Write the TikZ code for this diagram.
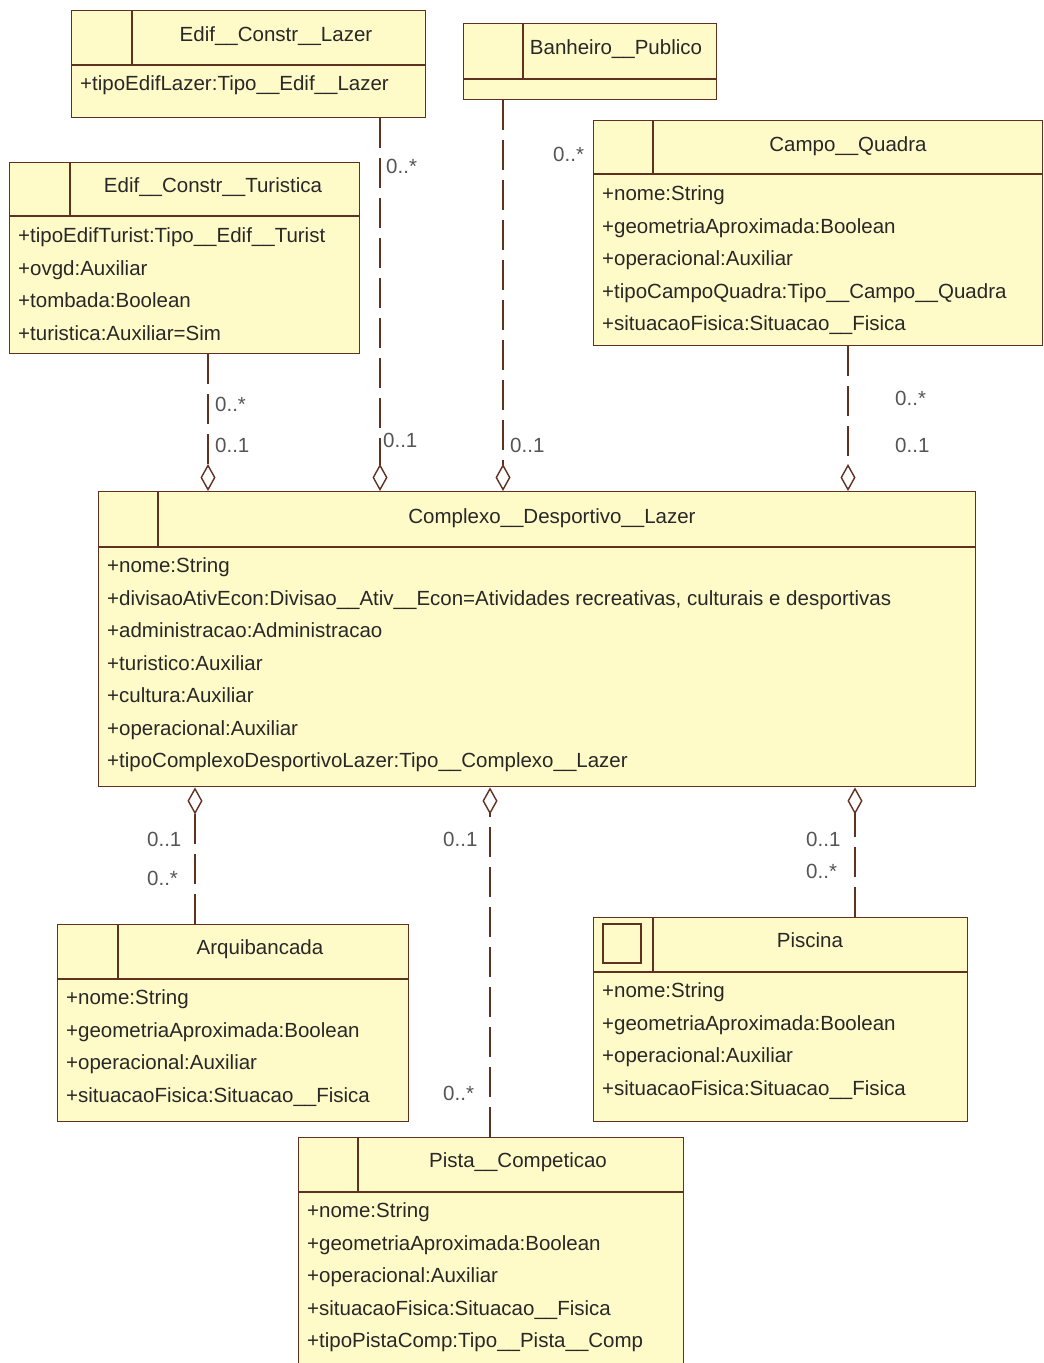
\documentclass[tikz,border=0pt]{standalone}
\usepackage{fontspec}
\setmainfont{Liberation Sans}
\usetikzlibrary{arrows.meta,positioning}
\definecolor{umlfill}{RGB}{255,251,200}
\definecolor{umlborder}{RGB}{96,48,32}
\definecolor{umltext}{RGB}{40,40,40}
\definecolor{multtext}{RGB}{85,85,85}
\newcommand{\umlfont}{\fontsize{20.5}{24}\selectfont}
\tikzset{classbox/.style={draw=umlborder,fill=umlfill,line width=1.4pt,inner sep=0pt,anchor=north west}}
\tikzset{divider/.style={draw=umlborder,line width=1.4pt}}
\tikzset{title/.style={inner sep=0pt,text=umltext,font=\umlfont,text height=15pt,text depth=4pt}}
\tikzset{attr/.style={anchor=west,inner sep=0pt,text=umltext,font=\umlfont,text height=15pt,text depth=4pt}}
\tikzset{mult/.style={anchor=west,inner sep=0pt,text=multtext,font=\umlfont,text height=15pt,text depth=4pt}}
\tikzset{aggr/.style={draw=umlborder,line width=1.4pt,dash pattern=on 30pt off 10pt,-{Diamond[open,length=27pt,width=15pt]}}}

\begin{document}
\begin{tikzpicture}[x=1pt,y=-1pt]
  \useasboundingbox (0,0) rectangle (1044,1363);
  % Edif__Constr__Lazer
  \node[classbox,minimum width=354,minimum height=107] (lazer) at (71,10) {};
  \draw[divider] (71,65) -- (425,65);
  \draw[divider] (132,10) -- (132,65);
  \node[title] (lazer-t) at (276,36) {Edif\_\_Constr\_\_Lazer};
  \node[attr] (lazer-a0) at (80,85) {+tipoEdifLazer:Tipo\_\_Edif\_\_Lazer};
  % Edif__Constr__Turistica
  \node[classbox,minimum width=350,minimum height=191] (turistica) at (9,162) {};
  \draw[divider] (9,216) -- (359,216);
  \draw[divider] (70,162) -- (70,216);
  \node[title] (turistica-t) at (213,187) {Edif\_\_Constr\_\_Turistica};
  \foreach \t [count=\i from 0] in {+tipoEdifTurist:Tipo\_\_Edif\_\_Turist,+ovgd:Auxiliar,
      +tombada:Boolean,+turistica:Auxiliar=Sim}
    \node[attr] (turistica-a\i) at (18,237+32.5*\i) {\t};
  % Banheiro__Publico
  \node[classbox,minimum width=253,minimum height=76] (banheiro) at (463,23) {};
  \draw[divider] (463,79) -- (716,79);
  \draw[divider] (523,23) -- (523,79);
  \node[title] (banheiro-t) at (616,49) {Banheiro\_\_Publico};
  % Campo__Quadra
  \node[classbox,minimum width=449,minimum height=225] (campo) at (593,120) {};
  \draw[divider] (593,174) -- (1042,174);
  \draw[divider] (653,120) -- (653,174);
  \node[title] (campo-t) at (848,146) {Campo\_\_Quadra};
  \foreach \t [count=\i from 0] in {+nome:String,+geometriaAproximada:Boolean,
      +operacional:Auxiliar,+tipoCampoQuadra:Tipo\_\_Campo\_\_Quadra,
      +situacaoFisica:Situacao\_\_Fisica}
    \node[attr] (campo-a\i) at (602,195+32.5*\i) {\t};
  % Complexo__Desportivo__Lazer
  \node[classbox,minimum width=877,minimum height=295] (complexo) at (98,491) {};
  \draw[divider] (98,547) -- (975,547);
  \draw[divider] (158,491) -- (158,547);
  \node[title] (complexo-t) at (552,518) {Complexo\_\_Desportivo\_\_Lazer};
  \foreach \t [count=\i from 0] in {+nome:String,
      {+divisaoAtivEcon:Divisao\_\_Ativ\_\_Econ=Atividades recreativas, culturais e desportivas},
      +administracao:Administracao,+turistico:Auxiliar,+cultura:Auxiliar,
      +operacional:Auxiliar,+tipoComplexoDesportivoLazer:Tipo\_\_Complexo\_\_Lazer}
    \node[attr] (complexo-a\i) at (107,567+32.5*\i) {\t};
  % Arquibancada
  \node[classbox,minimum width=351,minimum height=197] (arqui) at (57,924) {};
  \draw[divider] (57,979) -- (408,979);
  \draw[divider] (118,924) -- (118,979);
  \node[title] (arqui-t) at (260,949) {Arquibancada};
  \foreach \t [count=\i from 0] in {+nome:String,+geometriaAproximada:Boolean,
      +operacional:Auxiliar,+situacaoFisica:Situacao\_\_Fisica}
    \node[attr] (arqui-a\i) at (66,999+32.5*\i) {\t};
  % Piscina
  \node[classbox,minimum width=374,minimum height=204] (piscina) at (593,917) {};
  \draw[divider] (593,972) -- (967,972);
  \draw[divider] (653,917) -- (653,972);
  \draw[divider,line width=1.2pt] (603,924) rectangle (641,963);
  \node[title] (piscina-t) at (810,942) {Piscina};
  \foreach \t [count=\i from 0] in {+nome:String,+geometriaAproximada:Boolean,
      +operacional:Auxiliar,+situacaoFisica:Situacao\_\_Fisica}
    \node[attr] (piscina-a\i) at (602,992+32.5*\i) {\t};
  % Pista__Competicao
  \node[classbox,minimum width=385,minimum height=243] (pista) at (298,1137) {};
  \draw[divider] (298,1192) -- (683,1192);
  \draw[divider] (358,1137) -- (358,1192);
  \node[title] (pista-t) at (518,1162) {Pista\_\_Competicao};
  \foreach \t [count=\i from 0] in {+nome:String,+geometriaAproximada:Boolean,
      +operacional:Auxiliar,+situacaoFisica:Situacao\_\_Fisica,
      +tipoPistaComp:Tipo\_\_Pista\_\_Comp}
    \node[attr] (pista-a\i) at (307,1212+32.5*\i) {\t};

  % aggregations
  \coordinate (xT) at (208,0);
  \coordinate (xL) at (380,0);
  \coordinate (xB) at (503,0);
  \coordinate (xC) at (848,0);
  \coordinate (xA) at (195,0);
  \coordinate (xP) at (490,0);
  \coordinate (xS) at (855,0);
  \draw[aggr] (turistica.south -| xT) -- (complexo.north -| xT);
  \draw[aggr] (lazer.south -| xL) -- (complexo.north -| xL);
  \draw[aggr] (banheiro.south -| xB) -- (complexo.north -| xB);
  \draw[aggr] (campo.south -| xC) -- (complexo.north -| xC);
  \draw[aggr] (arqui.north -| xA) -- (complexo.south -| xA);
  \draw[aggr] (pista.north -| xP) -- (complexo.south -| xP);
  \draw[aggr] (piscina.north -| xS) -- (complexo.south -| xS);

  % multiplicities
  \node[mult] (mT1) at (215,406) {0..*};
  \node[mult] (mT2) at (215,447) {0..1};
  \node[mult] (mL1) at (386,168) {0..*};
  \node[mult] (mL2) at (383,442) {0..1};
  \node[mult] (mB1) at (553,156) {0..*};
  \node[mult] (mB2) at (510,447) {0..1};
  \node[mult] (mC1) at (895,400) {0..*};
  \node[mult] (mC2) at (895,447) {0..1};
  \node[mult] (mA1) at (147,841) {0..1};
  \node[mult] (mA2) at (147,880) {0..*};
  \node[mult] (mP1) at (443,841) {0..1};
  \node[mult] (mP2) at (443,1095) {0..*};
  \node[mult] (mS1) at (806,841) {0..1};
  \node[mult] (mS2) at (806,873) {0..*};
\end{tikzpicture}
\end{document}
